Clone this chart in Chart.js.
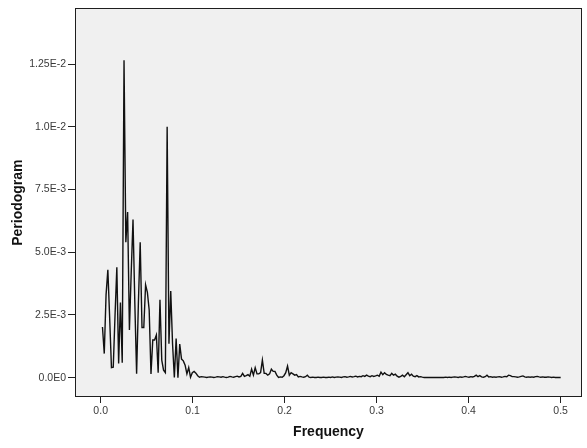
<!DOCTYPE html>
<html>
<head>
<meta charset="utf-8">
<script src="https://cdn.jsdelivr.net/npm/chart.js@4/dist/chart.umd.min.js"></script>
<style>
  html, body { margin: 0; padding: 0; background: #ffffff; }
  #c { display: block; }
</style>
</head>
<body>
<canvas id="c" width="587" height="448"></canvas>
<script>
// Number of observations (frequencies are k / N, k = 1..N/2)
const N = 512;

// Periodogram values, k = 1..256
const periodogram = [
  0.00202, 0.00096, 0.0033, 0.0043, 0.0024, 0.0004, 0.00042, 0.0025, 0.0044, 0.00057,
  0.0030, 0.0006, 0.01265, 0.0054, 0.0066, 0.0019, 0.0042, 0.0063, 0.0030, 0.00016,
  0.0030, 0.0054, 0.0020, 0.0020, 0.0037, 0.0034, 0.0027, 0.00015, 0.0015, 0.0015,
  0.0017, 0.0002, 0.0031, 0.0007, 0.0003, 0.0002, 0.0100, 0.00135, 0.00345, 0.00135,
  0.00001, 0.00156, 0.00000, 0.00134, 0.00074, 0.00067, 0.0005, 0.00015, 0.0004, 0.00002,
  0.0002, 0.00025, 0.00018, 0.00008, 0.00002, 0.00004, 0.00003, 0.00002, 0.00001, 0.00002,
  0.00003, 0.00002, 0.00001, 0.00002, 0.00004, 0.00003, 0.00002, 0.00004, 0.00002, 0.00001,
  0.00002, 0.00005, 0.00003, 0.00002, 0.00004, 0.00006, 0.00003, 0.00005, 0.00017, 0.00005,
  0.00008, 0.00012, 0.00006, 0.00034, 0.0001, 0.0004, 0.00015, 0.00015, 0.0002, 0.0007,
  0.00017, 0.00017, 0.0001, 0.00015, 0.00034, 0.00025, 0.00025, 0.0001, 0.00001, 0.00003,
  0.00002, 0.00008, 0.0002, 0.00046, 0.0001, 0.0002, 0.00015, 0.0001, 0.00012, 0.00003,
  0.00005, 0.00003, 0.00002, 0.00004, 0.0001, 0.00002, 0.00001, 0.00002, 0.00001, 0.00001,
  0.00002, 0.00001, 0.00001, 0.00002, 0.00001, 0.00001, 0.00002, 0.00001, 0.00003, 0.00001,
  0.00002, 0.00003, 0.00002, 0.00001, 0.00003, 0.00004, 0.00002, 0.00003, 0.00005, 0.00003,
  0.00004, 0.00006, 0.00003, 0.00005, 0.00004, 0.00008, 0.00005, 0.0001, 0.00006, 0.00004,
  0.00008, 0.00005, 0.00007, 0.0001, 0.00006, 0.00022, 0.00012, 0.0002, 0.00013, 0.0001,
  0.00008, 0.00017, 0.0001, 0.00014, 0.00006, 0.00002, 0.00005, 0.0001, 0.00004, 0.00012,
  0.0002, 0.00008, 0.00014, 0.00006, 0.00004, 0.00008, 0.00003, 0.00004, 0.00002, 0.00001,
  0.00001, 0.00001, 0.00001, 0.00001, 0.00001, 0.00001, 0.00001, 0.00001, 0.00001, 0.00001,
  0.00001, 0.00002, 0.00001, 0.00002, 0.00001, 0.00002, 0.00003, 0.00002, 0.00001, 0.00003,
  0.00002, 0.00003, 0.00005, 0.00003, 0.00002, 0.00004, 0.00003, 0.00005, 0.0001, 0.00004,
  0.00008, 0.00003, 0.00002, 0.00004, 0.0001, 0.00003, 0.00004, 0.00002, 0.00003, 0.00002,
  0.00003, 0.00004, 0.00002, 0.00003, 0.00005, 0.00004, 0.0001, 0.00008, 0.00004, 0.00004,
  0.00003, 0.00002, 0.00003, 0.00005, 0.00007, 0.00003, 0.00002, 0.00003, 0.00002, 0.00003,
  0.00002, 0.00004, 0.00005, 0.00003, 0.00002, 0.00003, 0.00002, 0.00002, 0.00003, 0.00002,
  0.00001, 0.00002, 0.00001, 0.00001, 0.00001, 0.00001
];
const frequency = periodogram.map((_, i) => (i + 1) / N);

const xTickValues = [0, 0.1, 0.2, 0.3, 0.4, 0.5];
const xTickLabels = ['0.0', '0.1', '0.2', '0.3', '0.4', '0.5'];
const yTickValues = [0, 0.0025, 0.005, 0.0075, 0.01, 0.0125];
const yTickLabels = ['0.0E0', '2.5E-3', '5.0E-3', '7.5E-3', '1.0E-2', '1.25E-2'];

const FONT = '"Liberation Sans", Arial, Helvetica, sans-serif';

const frame = {
  id: 'frame',
  beforeDraw(chart) {
    const {ctx, chartArea: a} = chart;
    ctx.save();
    ctx.fillStyle = '#ffffff';
    ctx.fillRect(0, 0, chart.width, chart.height);
    ctx.fillStyle = '#f0f0f0';
    ctx.fillRect(a.left, a.top, a.right - a.left, a.bottom - a.top);
    ctx.restore();
  },
  afterDraw(chart) {
    const {ctx, chartArea: a} = chart;
    ctx.save();
    ctx.strokeStyle = '#1e1e1e';
    ctx.lineWidth = 1;
    ctx.strokeRect(Math.round(a.left) + 0.5, Math.round(a.top) + 0.5,
                   Math.round(a.right - a.left) - 1, Math.round(a.bottom - a.top) - 1);
    ctx.restore();
  }
};

new Chart(document.getElementById('c'), {
  type: 'line',
  data: {
    datasets: [{
      data: frequency.map((f, i) => ({x: f, y: periodogram[i]})),
      borderColor: '#111111',
      borderWidth: 1.4,
      pointRadius: 0,
      tension: 0,
      fill: false
    }]
  },
  options: {
    responsive: false,
    animation: false,
    devicePixelRatio: 1,
    layout: { padding: { top: 6, right: 5, left: 0, bottom: 0 } },
    plugins: { legend: { display: false }, tooltip: { enabled: false } },
    scales: {
      x: {
        type: 'linear',
        min: -0.0279,
        max: 0.5232,
        afterBuildTicks: s => { s.ticks = xTickValues.map(v => ({value: v})); },
        afterFit: s => { s.height = 51; },
        ticks: {
          autoSkip: false,
          maxRotation: 0,
          padding: 2,
          color: '#3a3a3a',
          font: { family: FONT, size: 10.5 },
          callback: (v, i) => xTickLabels[i]
        },
        grid: { drawOnChartArea: false, drawTicks: true, tickLength: 6, color: '#222222', lineWidth: 1 },
        border: { display: false },
        title: {
          display: true,
          text: 'Frequency',
          color: '#111111',
          font: { family: FONT, size: 14, weight: 'bold', lineHeight: 1.2 },
          padding: { top: 0, bottom: 7 }
        }
      },
      y: {
        type: 'linear',
        min: -0.00077,
        max: 0.01472,
        afterBuildTicks: s => { s.ticks = yTickValues.map(v => ({value: v})); },
        afterFit: s => { s.width = 75; },
        ticks: {
          autoSkip: false,
          padding: 2,
          color: '#3a3a3a',
          font: { family: FONT, size: 10.5 },
          callback: (v, i) => yTickLabels[i]
        },
        grid: { drawOnChartArea: false, drawTicks: true, tickLength: 7, color: '#222222', lineWidth: 1 },
        border: { display: false },
        title: {
          display: true,
          text: 'Periodogram',
          color: '#111111',
          font: { family: FONT, size: 14, weight: 'bold', lineHeight: 1.2 },
          padding: { top: 10, bottom: 0 }
        }
      }
    }
  },
  plugins: [frame]
});
</script>
</body>
</html>
